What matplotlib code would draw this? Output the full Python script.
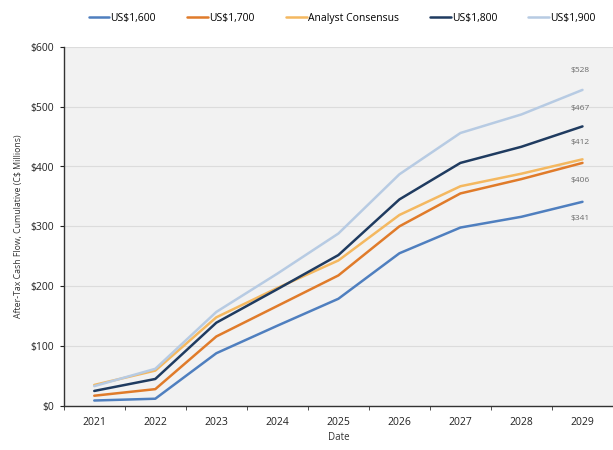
import matplotlib
matplotlib.use("Agg")
import matplotlib.pyplot as plt
from matplotlib.ticker import FuncFormatter, FixedLocator

years = ["2021", "2022", "2023", "2024", "2025", "2026", "2027", "2028", "2029"]
us1600 = [9, 12, 88, 134, 179, 255, 298, 316, 341]
us1700 = [17, 28, 116, 167, 218, 300, 355, 379, 406]
consensus = [35, 59, 148, 197, 243, 319, 367, 388, 412]
us1800 = [25, 45, 139, 195, 252, 345, 406, 433, 467]
us1900 = [33, 62, 157, 221, 288, 387, 456, 487, 528]

series = [
    ("US$1,600", us1600, "#4f7fbf"),
    ("US$1,700", us1700, "#e07b2a"),
    ("Analyst Consensus", consensus, "#f4b860"),
    ("US$1,800", us1800, "#1f3b60"),
    ("US$1,900", us1900, "#b7cbe3"),
]
end_labels = [("$528", us1900, 14), ("$467", us1800, 13), ("$412", consensus, 12),
              ("$406", us1700, -13), ("$341", us1600, -12)]

plt.rcParams['font.family'] = ['Open Sans', 'DejaVu Sans']
fig = plt.figure(figsize=(6.13, 4.5), dpi=100)
ax = fig.add_axes([0.104, 0.098, 0.896, 0.798])
ax.set_facecolor("#f2f2f2")
x = list(range(len(years)))
for name, vals, col in series:
    ax.plot(x, vals, color=col, lw=1.8, label=name, solid_capstyle='round')

for txt, vals, off in end_labels:
    ax.annotate(txt, (x[-1], vals[-1]), xytext=(-2, off), textcoords="offset points",
                ha="center", va="center", fontsize=6, color="#6b6b6b")

ax.set_xlim(-0.5, 8.5)
ax.set_ylim(0, 600)
ax.set_yticks(range(0, 601, 100))
ax.yaxis.set_major_formatter(FuncFormatter(lambda v, p: f"${int(v)}"))
ax.set_xticks(x)
ax.set_xticklabels(years)
ax.xaxis.set_minor_locator(FixedLocator([i - 0.5 for i in range(len(years) + 1)]))
ax.tick_params(axis='x', which='major', length=0, labelsize=7.5, colors="#222222", pad=8)
ax.tick_params(axis='x', which='minor', length=3, direction='out', color="#333333")
ax.tick_params(axis='y', length=3, direction='out', labelsize=7.5, colors="#222222", pad=4)
ax.grid(axis='y', color="#dcdcdc", lw=0.8)
ax.set_axisbelow(True)
for s in ["top", "right"]:
    ax.spines[s].set_visible(False)
for s in ["left", "bottom"]:
    ax.spines[s].set_color("#333333")
    ax.spines[s].set_linewidth(1.0)
ax.set_xlabel("Date", fontsize=7, color="#333333", labelpad=3)
ax.set_ylabel("After-Tax Cash Flow, Cumulative (C$ Millions)", fontsize=6.3, color="#333333", labelpad=5)

fig.legend(loc="upper center", bbox_to_anchor=(0.558, 0.993), ncol=5, frameon=False,
           fontsize=7.5, handlelength=2.0, handletextpad=0.1, columnspacing=3.0)

fig.savefig("out.png", dpi=100, facecolor="white")
